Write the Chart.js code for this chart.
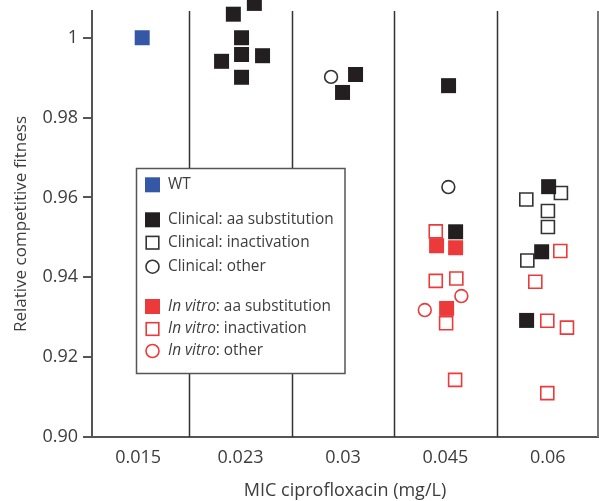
<!DOCTYPE html>
<html lang="en">
<head>
<meta charset="UTF-8">
<title>Relative competitive fitness vs MIC ciprofloxacin</title>
<script src="https://cdn.jsdelivr.net/npm/chart.js@4.4.7/dist/chart.umd.min.js"></script>
<style>
*{margin:0;padding:0;box-sizing:border-box}
html,body{width:599px;height:501px;background:#fff;overflow:hidden}
#wrap{position:relative;width:599px;height:501px}
</style>
</head>
<body>
<div id="wrap"><canvas id="chart" width="599" height="501"></canvas></div>
<script>
// MIC categories (x positions 0..4), points keep their small horizontal spread
const categories = ['0.015', '0.023', '0.03', '0.045', '0.06'];
const yTicks = [0.90, 0.92, 0.94, 0.96, 0.98, 1];
const yTickLabels = ['0.90', '0.92', '0.94', '0.96', '0.98', '1'];

const wtX = [0.04];
const wtY = [1.000];

const clinicalAaX = [0.93, 1.135, 1.01, 1.01, 0.815, 1.215, 1.01, 2.123, 1.996, 3.031, 3.100, 4.008, 3.940, 3.793];
const clinicalAaY = [1.0059, 1.0086, 1.0000, 0.9958, 0.9941, 0.9955, 0.9901, 0.9908, 0.9863, 0.9880, 0.9514, 0.9627, 0.9464, 0.9292];

const clinicalInactX = [4.128, 3.790, 4.001, 4.001, 3.800];
const clinicalInactY = [0.9611, 0.9595, 0.9566, 0.9526, 0.9442];

const clinicalOtherX = [1.884, 3.029];
const clinicalOtherY = [0.9902, 0.9626];

const vitroAaX = [2.914, 3.100, 3.012];
const vitroAaY = [0.9479, 0.9474, 0.9322];

const vitroInactX = [2.906, 2.906, 3.107, 3.007, 3.095, 4.122, 3.878, 3.995, 4.187, 3.995];
const vitroInactY = [0.9515, 0.9391, 0.9397, 0.9285, 0.9143, 0.9466, 0.9389, 0.9291, 0.9274, 0.9110];

const vitroOtherX = [3.156, 2.799];
const vitroOtherY = [0.9353, 0.9318];

const BLUE = '#3457a6', BLACK = '#231f20', RED = '#ec3a3a', TEXT = '#3d3d3d', AXIS = '#555';
const FONT = '"Open Sans", "Noto Sans", sans-serif';

const pts = (xs, ys) => xs.map((x, i) => ({ x, y: ys[i] }));

// filled markers first so they sit on top of the open ones
const datasets = [
  { label: 'WT', data: pts(wtX, wtY), pointStyle: 'rect', pointRadius: 10.6, backgroundColor: BLUE, borderWidth: 0 },
  { label: 'Clinical: aa substitution', data: pts(clinicalAaX, clinicalAaY), pointStyle: 'rect', pointRadius: 10.6, backgroundColor: BLACK, borderWidth: 0 },
  { label: 'In vitro: aa substitution', data: pts(vitroAaX, vitroAaY), pointStyle: 'rect', pointRadius: 10.6, backgroundColor: RED, borderWidth: 0 },
  { label: 'Clinical: inactivation', data: pts(clinicalInactX, clinicalInactY), pointStyle: 'rect', pointRadius: 9.2, backgroundColor: '#fff', borderColor: '#333', borderWidth: 1.6 },
  { label: 'In vitro: inactivation', data: pts(vitroInactX, vitroInactY), pointStyle: 'rect', pointRadius: 9.2, backgroundColor: 'rgba(255,255,255,0)', borderColor: RED, borderWidth: 1.6 },
  { label: 'Clinical: other', data: pts(clinicalOtherX, clinicalOtherY), pointStyle: 'circle', pointRadius: 6.4, backgroundColor: '#fff', borderColor: '#333', borderWidth: 1.6 },
  { label: 'In vitro: other', data: pts(vitroOtherX, vitroOtherY), pointStyle: 'circle', pointRadius: 6.4, backgroundColor: '#fff', borderColor: RED, borderWidth: 1.6 },
].map(d => Object.assign(d, { clip: false, pointHoverRadius: d.pointRadius }));

const legendRows = [
  { style: 'fill', color: BLUE, pre: '', text: 'WT', y: 184.8 },
  { style: 'fill', color: BLACK, pre: '', text: 'Clinical: aa substitution', y: 219.8 },
  { style: 'open', color: '#333', pre: '', text: 'Clinical: inactivation', y: 242.7 },
  { style: 'circle', color: '#333', pre: '', text: 'Clinical: other', y: 266.7 },
  { style: 'fill', color: RED, pre: 'In vitro', text: ': aa substitution', y: 306.5 },
  { style: 'open', color: RED, pre: 'In vitro', text: ': inactivation', y: 329 },
  { style: 'circle', color: RED, pre: 'In vitro', text: ': other', y: 351 },
];

const decor = {
  id: 'decor',
  beforeDatasetsDraw(chart) {
    const { ctx, chartArea: a, scales: { x } } = chart;
    ctx.save();
    ctx.strokeStyle = '#333';
    ctx.lineWidth = 1.5;
    for (let i = 0; i < categories.length - 1; i++) {
      const px = Math.round(x.getPixelForValue(i + 0.5)) + 0.5;
      ctx.beginPath(); ctx.moveTo(px, a.top); ctx.lineTo(px, a.bottom); ctx.stroke();
    }
    ctx.strokeStyle = '#777';
    ctx.lineWidth = 2;
    ctx.beginPath(); ctx.moveTo(a.right, a.top); ctx.lineTo(a.right, a.bottom); ctx.stroke();
    ctx.restore();
  },
  afterDraw(chart) {
    const { ctx, chartArea: a } = chart;
    ctx.save();
    // legend box
    ctx.fillStyle = '#fff';
    ctx.fillRect(136.5, 168.5, 208.5, 205);
    ctx.strokeStyle = AXIS;
    ctx.lineWidth = 1.5;
    ctx.strokeRect(136.5, 168.5, 208.5, 205);
    ctx.textBaseline = 'middle';
    legendRows.forEach(r => {
      const mx = 152.5;
      if (r.style === 'fill') {
        ctx.fillStyle = r.color; ctx.fillRect(mx - 7.5, r.y - 7.5, 15, 15);
      } else if (r.style === 'open') {
        ctx.strokeStyle = r.color; ctx.lineWidth = 1.6; ctx.strokeRect(mx - 6.3, r.y - 6.3, 12.6, 12.6);
      } else {
        ctx.strokeStyle = r.color; ctx.lineWidth = 1.6;
        ctx.beginPath(); ctx.arc(mx, r.y, 6.5, 0, Math.PI * 2); ctx.stroke();
      }
      let tx = 168;
      ctx.fillStyle = TEXT;
      if (r.pre) {
        ctx.font = 'italic 15.4px ' + FONT;
        ctx.fillText(r.pre, tx, r.y);
        tx += ctx.measureText(r.pre).width;
      }
      ctx.font = '15.4px ' + FONT;
      ctx.fillText(r.text, tx, r.y);
    });
    // axis titles
    ctx.fillStyle = TEXT;
    ctx.textAlign = 'center';
    ctx.font = '18px ' + FONT;
    ctx.fillText('MIC ciprofloxacin (mg/L)', (a.left + a.right) / 2, 491);
    ctx.font = '17px ' + FONT;
    ctx.translate(21, 224);
    ctx.rotate(-Math.PI / 2);
    ctx.fillText('Relative competitive fitness', 0, 0);
    ctx.restore();
  }
};

new Chart(document.getElementById('chart'), {
  type: 'scatter',
  data: { datasets },
  options: {
    responsive: false,
    animation: false,
    layout: { autoPadding: false, padding: { top: 11, right: 1, left: 0, bottom: 0 } },
    plugins: { legend: { display: false }, tooltip: { enabled: false } },
    scales: {
      x: {
        type: 'linear',
        min: -0.45,
        max: 4.49,
        afterFit: s => { s.height = 64; s.paddingLeft = 0; s.paddingRight = 0; },
        afterBuildTicks: s => { s.ticks = categories.map((_, i) => ({ value: i })); },
        ticks: {
          callback: v => categories[v],
          color: TEXT,
          font: { family: FONT, size: 18 },
          padding: 2,
          maxRotation: 0,
        },
        grid: { display: false },
        border: { display: true, color: AXIS, width: 2 },
      },
      y: {
        min: 0.9,
        max: 1.0067,
        afterFit: s => { s.width = 92; s.paddingTop = 0; s.paddingBottom = 0; },
        afterBuildTicks: s => { s.ticks = yTicks.map(v => ({ value: v })); },
        ticks: {
          callback: (v, i) => yTickLabels[i],
          color: TEXT,
          font: { family: FONT, size: 18 },
          padding: 5,
        },
        grid: { drawOnChartArea: false, drawTicks: true, tickLength: 9, color: AXIS, lineWidth: 2 },
        border: { display: true, color: AXIS, width: 2 },
      },
    },
  },
  plugins: [decor],
});
</script>
</body>
</html>
